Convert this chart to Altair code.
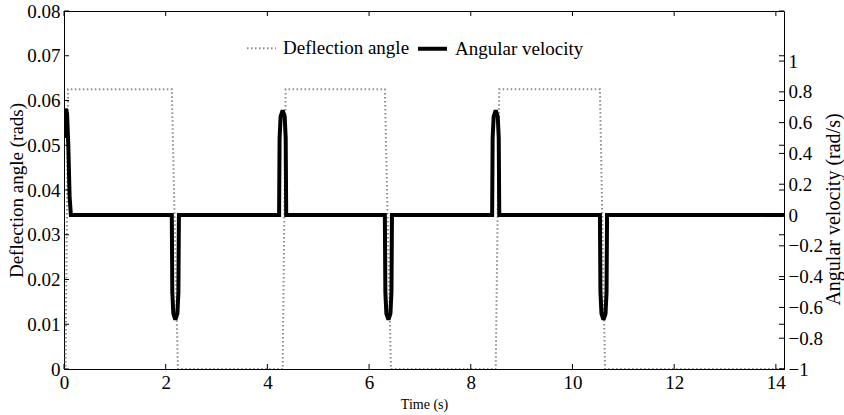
import altair as alt
import pandas as pd

# ---- data ----
defl_t = [0.0, 0.03, 0.08, 2.12, 2.24, 4.30, 4.36, 6.31, 6.43, 8.49, 8.56, 10.54, 10.64, 14.16]
defl_v = [0.0, 0.0, 0.0625, 0.0625, 0.0, 0.0, 0.0625, 0.0625, 0.0, 0.0, 0.0625, 0.0625, 0.0, 0.0]

omega_t = [0.0, 0.015, 0.035, 0.06, 0.085, 0.11, 0.135,
           2.12, 2.13, 2.15, 2.18, 2.20, 2.23, 2.25, 2.26,
           4.23, 4.24, 4.26, 4.29, 4.31, 4.34, 4.36, 4.37,
           6.31, 6.32, 6.34, 6.37, 6.39, 6.42, 6.44, 6.45,
           8.42, 8.43, 8.45, 8.48, 8.50, 8.53, 8.55, 8.56,
           10.54, 10.55, 10.57, 10.60, 10.62, 10.65, 10.67, 10.68,
           14.16]
omega_v = [0.50, 0.64, 0.69, 0.66, 0.45, 0.12, 0.0,
           0.0, -0.50, -0.64, -0.67, -0.67, -0.64, -0.50, 0.0,
           0.0, 0.50, 0.64, 0.67, 0.67, 0.64, 0.50, 0.0,
           0.0, -0.50, -0.64, -0.67, -0.67, -0.64, -0.50, 0.0,
           0.0, 0.50, 0.64, 0.67, 0.67, 0.64, 0.50, 0.0,
           0.0, -0.50, -0.64, -0.67, -0.67, -0.64, -0.50, 0.0,
           0.0]

x_ticks = [0, 2, 4, 6, 8, 10, 12, 14]
left_ticks = [0, 0.01, 0.02, 0.03, 0.04, 0.05, 0.06, 0.07, 0.08]
right_ticks = [-1, -0.8, -0.6, -0.4, -0.2, 0, 0.2, 0.4, 0.6, 0.8, 1]

series_names = ["Deflection angle", "Angular velocity"]

X_DOM = [0, 14.16]
L_DOM = [0, 0.08]
R_DOM = [-1, 1.325]
W, H = 720, 358
FONT = "Liberation Serif"

defl_df = pd.DataFrame({"t": defl_t, "v": defl_v, "series": series_names[0]})
omega_df = pd.DataFrame({"t": omega_t, "v": omega_v, "series": series_names[1]})

xs = alt.Scale(domain=X_DOM, nice=False, zero=False)
ls = alt.Scale(domain=L_DOM, nice=False, zero=False)
rs = alt.Scale(domain=R_DOM, nice=False, zero=False)


def leg():
    return alt.Legend(title=None, orient="none", legendX=182, legendY=21,
                      direction="horizontal", symbolType="stroke",
                      symbolSize=840, labelFont=FONT, labelFontSize=19,
                      labelColor="black", labelOffset=6, columnPadding=0,
                      padding=0)


color = alt.Color("series:N", scale=alt.Scale(domain=series_names, range=["#8c8c8c", "#000000"]),
                  legend=leg())
dash = alt.StrokeDash("series:N", scale=alt.Scale(domain=series_names, range=[[1.5, 2.5], [1, 0]]),
                      legend=leg())
swidth = alt.StrokeWidth("series:N", scale=alt.Scale(domain=series_names, range=[2, 4]),
                         legend=leg())

defl = alt.Chart(defl_df).mark_line(clip=True).encode(
    x=alt.X("t:Q", scale=xs, axis=alt.Axis(title="Time (s)", values=x_ticks, titleFontSize=14,
                                          titleFont=FONT, titleFontWeight="normal",
                                          labelFont=FONT, labelFontSize=19, labelPadding=4,
                                          ticks=False, grid=False, domainColor="black",
                                          labelColor="black", titleColor="black", titlePadding=5,
                                          labelFlush=False)),
    y=alt.Y("v:Q", scale=ls, axis=alt.Axis(title="Deflection angle (rads)", orient="left",
                                          values=left_ticks, labelExpr="format(datum.value, '~g')",
                                          labelFont=FONT, labelFontSize=19, titleFont=FONT,
                                          titleFontSize=19, titleFontWeight="normal",
                                          ticks=False, grid=False, domainColor="black",
                                          labelColor="black", titleColor="black", labelPadding=4,
                                          titleX=-48, titleY=H / 2, titleBaseline="middle",
                                          titleAlign="center", labelFlush=False)),
    color=color, strokeDash=dash, strokeWidth=swidth,
)

omega = alt.Chart(omega_df).mark_line(clip=True).encode(
    x=alt.X("t:Q", scale=xs),
    y=alt.Y("v:Q", scale=rs, axis=alt.Axis(title="Angular velocity (rad/s)", orient="right",
                                          values=right_ticks, labelExpr="format(datum.value, '~g')",
                                          labelFont=FONT, labelFontSize=19, titleFont=FONT,
                                          titleFontSize=20, titleFontWeight="normal",
                                          ticks=False, grid=False, domainColor="black",
                                          labelColor="black", titleColor="black", labelPadding=4,
                                          titleAngle=270, titleX=49, titleY=198,
                                          titleBaseline="middle", titleAlign="center",
                                          labelFlush=False)),
    color=color, strokeDash=dash, strokeWidth=swidth,
)

# inward tick marks, placed through the scales
xt_df = pd.DataFrame({"t": x_ticks})
lt_df = pd.DataFrame({"v": left_ticks})
rt_df = pd.DataFrame({"v": right_ticks})

xt_bottom = alt.Chart(xt_df).mark_rule(color="black", strokeWidth=1).encode(
    x=alt.X("t:Q", scale=xs), y=alt.value(H), y2=alt.value(H - 5))
xt_top = alt.Chart(xt_df).mark_rule(color="black", strokeWidth=1).encode(
    x=alt.X("t:Q", scale=xs), y=alt.value(0), y2=alt.value(5))
lt_left = alt.Chart(lt_df).mark_rule(color="black", strokeWidth=1).encode(
    y=alt.Y("v:Q", scale=ls, axis=None), x=alt.value(0), x2=alt.value(5))
lt_right = alt.Chart(lt_df).mark_rule(color="black", strokeWidth=1).encode(
    y=alt.Y("v:Q", scale=ls, axis=None), x=alt.value(W), x2=alt.value(W - 5))
rt_right = alt.Chart(rt_df).mark_rule(color="black", strokeWidth=1).encode(
    y=alt.Y("v:Q", scale=rs, axis=None), x=alt.value(W), x2=alt.value(W - 5))

chart = alt.layer(defl, omega, xt_bottom, xt_top, lt_left, lt_right, rt_right).resolve_scale(
    y="independent"
).properties(
    width=W, height=H,
    autosize=alt.AutoSizeParams(type="none"),
    padding={"left": 64, "top": 11, "right": 60, "bottom": 46},
    background="white",
).configure(font=FONT).configure_view(stroke="black", strokeWidth=1).configure_axis(domainWidth=1)

chart.save("out.html", embed_options={"renderer": "svg", "actions": False})
